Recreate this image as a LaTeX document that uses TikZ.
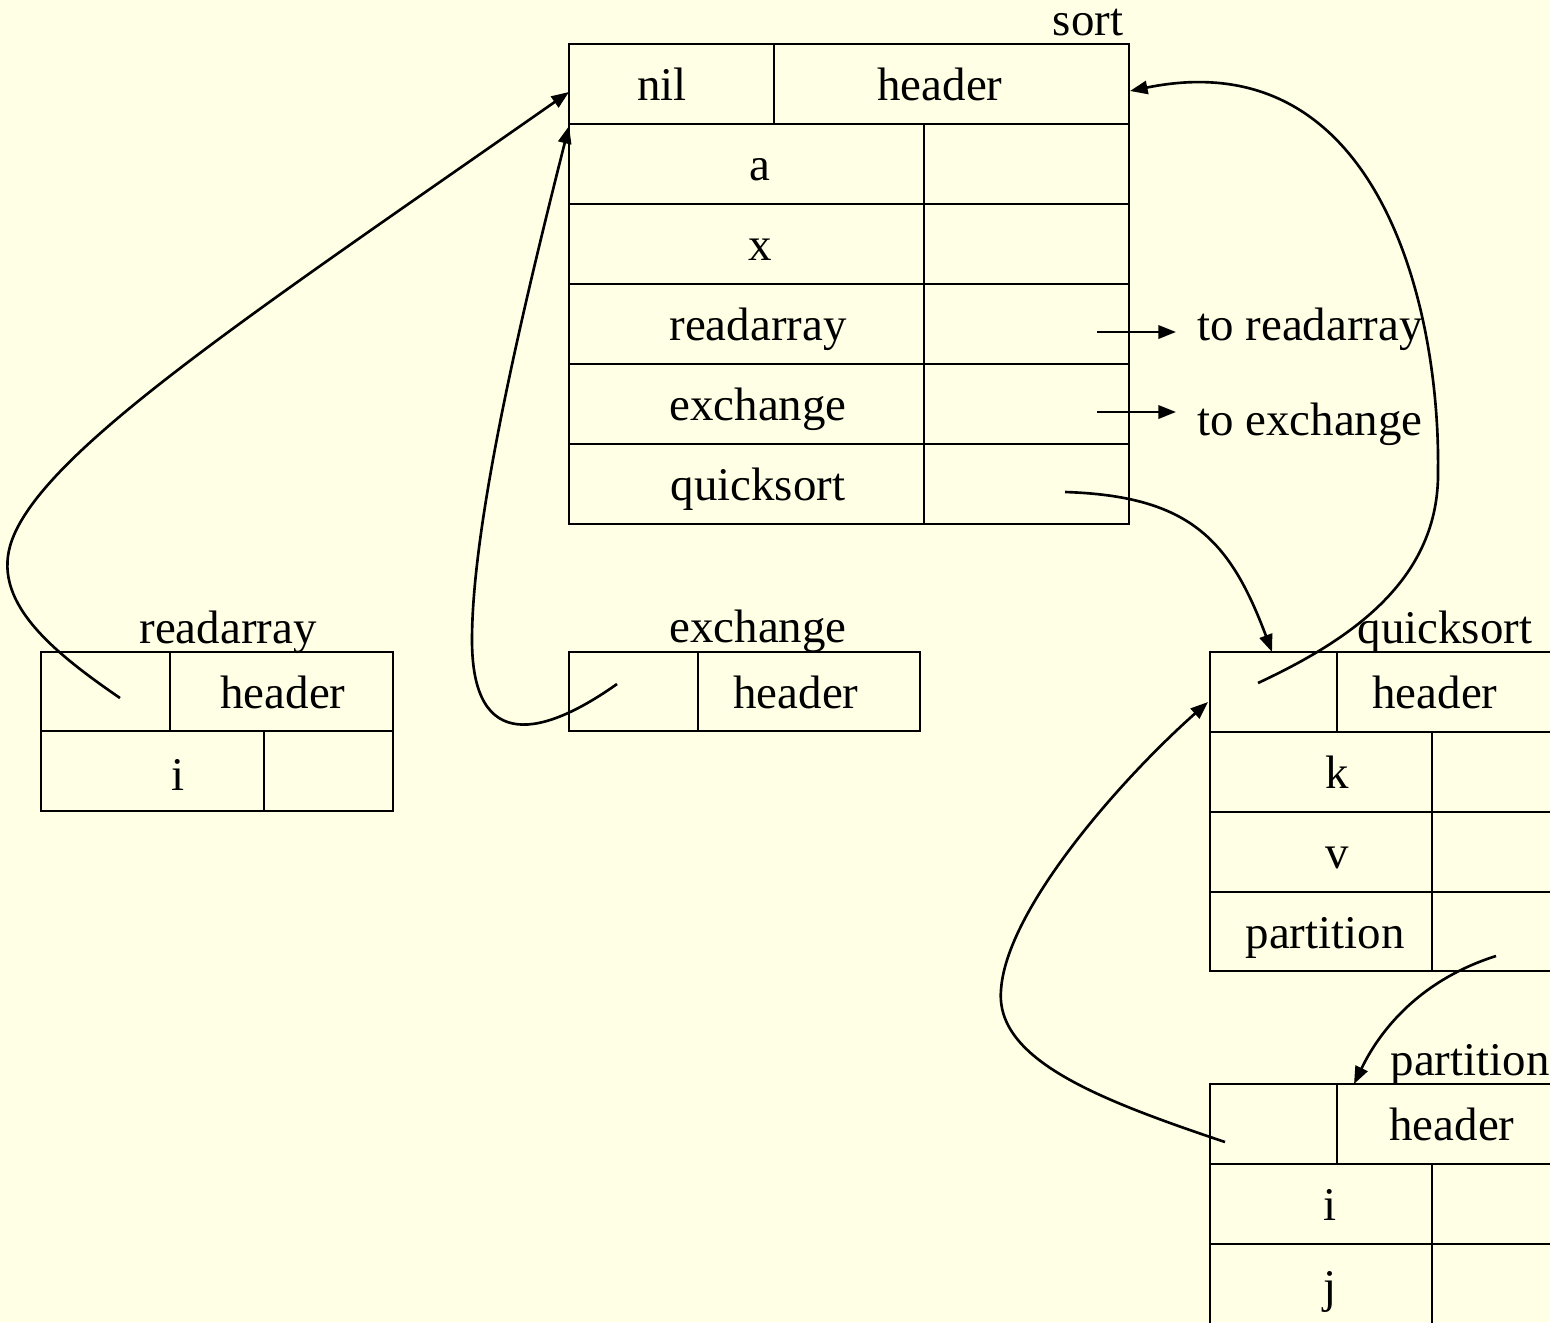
\documentclass[tikz,border=0pt]{standalone}
\usepackage{fontspec}
\setmainfont{Liberation Serif}
\usetikzlibrary{arrows.meta}
\definecolor{bgyellow}{RGB}{255,255,229}
\begin{document}
\begin{tikzpicture}[x=0.02cm,y=-0.02cm,
  grid/.style={line width=1.4pt, black},
  lbl/.style={anchor=base, inner sep=0pt, font=\fontsize{26.7pt}{32pt}\selectfont},
  lblL/.style={lbl, anchor=base west},
  link/.style={line width=1.5pt, -{Triangle[length=10pt,width=7.5pt]}}]
\clip (0,0) rectangle (1550,1322);
\fill[bgyellow] (0,0) rectangle (1550,1322);

% ---- sort record
\draw[grid] (569,44) rectangle (1129,524);
\foreach \yy in {124,204,284,364,444} \draw[grid] (569,\yy) -- (1129,\yy);
\draw[grid] (774,44) -- (774,124);
\draw[grid] (924,124) -- (924,524);

% ---- readarray record
\draw[grid] (41,652) rectangle (393,811);
\draw[grid] (41,731) -- (393,731);
\draw[grid] (170,652) -- (170,731);
\draw[grid] (264,731) -- (264,811);

% ---- exchange record
\draw[grid] (569,652) rectangle (920,731);
\draw[grid] (698,652) -- (698,731);

% ---- quicksort record
\draw[grid] (1600,652) -- (1210,652) -- (1210,971) -- (1600,971);
\foreach \yy in {732,812,892} \draw[grid] (1210,\yy) -- (1600,\yy);
\draw[grid] (1337,652) -- (1337,732);
\draw[grid] (1432,732) -- (1432,971);

% ---- partition record
\draw[grid] (1600,1084) -- (1210,1084) -- (1210,1340);
\foreach \yy in {1164,1244} \draw[grid] (1210,\yy) -- (1600,\yy);
\draw[grid] (1337,1084) -- (1337,1164);
\draw[grid] (1432,1164) -- (1432,1340);

% ---- texts
\node[lbl] (tSort) at (1088,35) {sort};
\node[lbl] (tNil) at (662,100) {nil};
\node[lbl] (tSortHdr) at (940,100) {header};
\node[lbl] (tA) at (760,180) {a};
\node[lbl] (tX) at (760,260) {x};
\node[lbl] (tRead) at (758,340) {readarray};
\node[lbl] (tExch) at (758,420) {exchange};
\node[lbl] (tQuick) at (758,500) {quicksort};
\node[lblL] (tToRead) at (1197,340) {to readarray};
\node[lblL] (tToExch) at (1197,435) {to exchange};

\node[lbl] (tRdLbl) at (228,643) {readarray};
\node[lbl] (tRdHdr) at (283,708) {header};
\node[lbl] (tRdI) at (178,790) {i};

\node[lbl] (tExLbl) at (758,642) {exchange};
\node[lbl] (tExHdr) at (796,708) {header};

\node[lbl] (tQsLbl) at (1445,643) {quicksort};
\node[lbl] (tQsHdr) at (1435,708) {header};
\node[lbl] (tQsK) at (1337,788) {k};
\node[lbl] (tQsV) at (1337,868) {v};
\node[lbl] (tQsP) at (1325,948) {partition};

\node[lbl] (tPtLbl) at (1470,1075) {partition};
\node[lbl] (tPtHdr) at (1452,1140) {header};
\node[lbl] (tPtI) at (1330,1220) {i};
\node[lbl] (tPtJ) at (1330,1302) {j};

% ---- connector end points
\coordinate (ra0) at (1097,332);  \coordinate (ra1) at (1176,332);
\coordinate (ex0) at (1097,412);  \coordinate (ex1) at (1176,412);
\coordinate (rdS) at (120,698);   \coordinate (sortL1) at (569,92);
\coordinate (exS) at (617,684);   \coordinate (sortL2) at (569,126);
\coordinate (qsS) at (1065,492);  \coordinate (qsTop) at (1272,652);
\coordinate (qhS) at (1258,683);  \coordinate (sortR) at (1130,91);
\coordinate (ptS) at (1496,956);  \coordinate (ptTop) at (1354,1084);
\coordinate (phS) at (1225,1142); \coordinate (qsL) at (1208,702);

% ---- connectors
\draw[link] (ra0) -- (ra1);
\draw[link] (ex0) -- (ex1);
\draw[link] (rdS) .. controls (50,650) and (-10,600) .. (12,540)
                  .. controls (45,450) and (250,315) .. (sortL1);
\draw[link] (exS) .. controls (545,735) and (472,755) .. (472,640)
                  .. controls (472,520) and (525,300) .. (sortL2);
\draw[link] (qsS) .. controls (1190,496) and (1230,540) .. (qsTop);
\draw[link] (qhS) .. controls (1350,640) and (1440,580) .. (1438,470)
                  .. controls (1440,310) and (1380,40) .. (sortR);
\draw[link] (ptS) .. controls (1420,980) and (1380,1030) .. (ptTop);
\draw[link] (phS) .. controls (1100,1100) and (995,1060) .. (1001,990)
                  .. controls (1006,910) and (1120,780) .. (qsL);
\end{tikzpicture}
\end{document}
